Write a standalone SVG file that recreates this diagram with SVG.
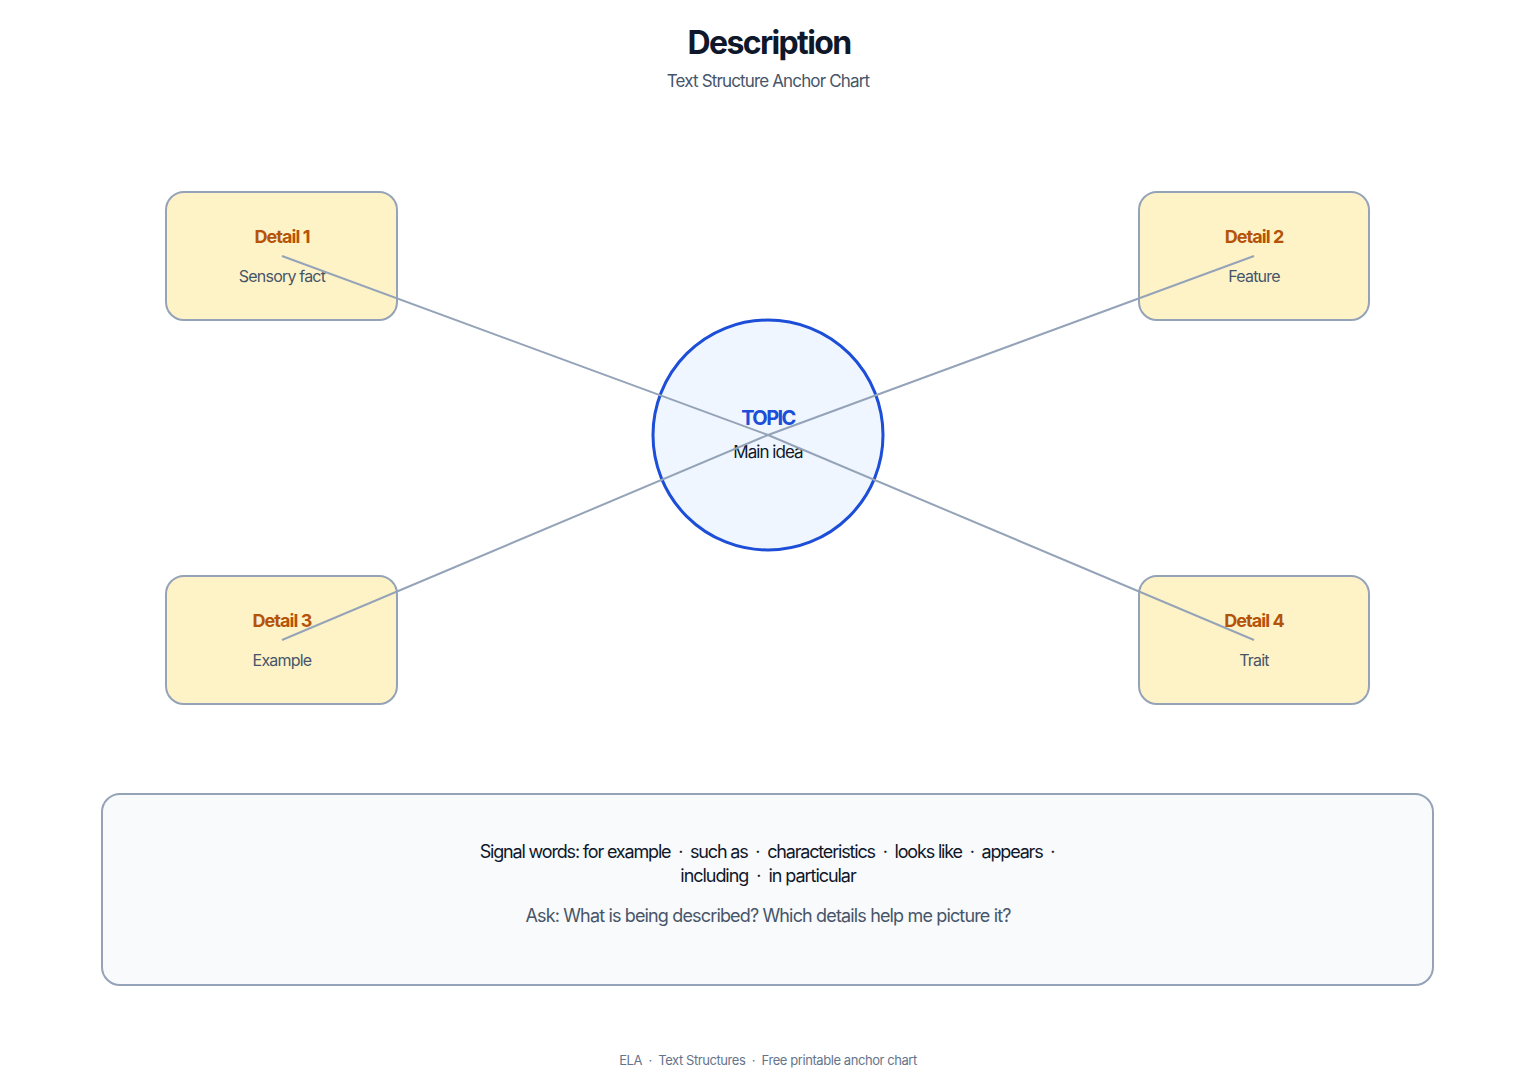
<svg xmlns="http://www.w3.org/2000/svg" width="1536" height="1088" viewBox="0 0 1536 1088">
<style>
text{font-family:Inter,"Noto Sans","Liberation Sans",sans-serif;text-anchor:middle}
.box{fill:#fef3c7;stroke:#94a3b8;stroke-width:2}
.dt{font-size:18px;font-weight:700;fill:#b45309;letter-spacing:-0.95px}
.ds{font-size:16px;fill:#475569;letter-spacing:-0.8px}
.con{stroke:#94a3b8;stroke-width:2;fill:none}
</style>
<rect width="1536" height="1088" fill="#ffffff"/>
<g id="title">
<text x="769" y="54" font-size="32" font-weight="700" fill="#0f172a" letter-spacing="-1.65">Description</text>
<text x="768" y="87" font-size="17" fill="#475569" letter-spacing="-0.85">Text Structure Anchor Chart</text>
</g>
<g id="topic">
<circle cx="768" cy="435" r="115" fill="#eff6ff" stroke="#1d4ed8" stroke-width="3"/>
<text x="768" y="425" font-size="20" font-weight="700" fill="#1d4ed8" letter-spacing="-1.6">TOPIC</text>
<text x="768" y="458" font-size="17" fill="#0f172a" letter-spacing="-0.95">Main idea</text>
</g>
<g id="detail1">
<rect class="box" x="166" y="192" width="231" height="128" rx="18"/>
<text class="dt" x="282" y="243">Detail 1</text>
<text class="ds" x="282" y="282">Sensory fact</text>
</g>
<g id="detail2">
<rect class="box" x="1139" y="192" width="230" height="128" rx="18"/>
<text class="dt" x="1254" y="243">Detail 2</text>
<text class="ds" x="1254" y="282">Feature</text>
</g>
<g id="detail3">
<rect class="box" x="166" y="576" width="231" height="128" rx="18"/>
<text class="dt" x="282" y="627">Detail 3</text>
<text class="ds" x="282" y="666">Example</text>
</g>
<g id="detail4">
<rect class="box" x="1139" y="576" width="230" height="128" rx="18"/>
<text class="dt" x="1254" y="627">Detail 4</text>
<text class="ds" x="1254" y="666">Trait</text>
</g>
<g id="connectors">
<line class="con" x1="282" y1="256" x2="768" y2="435"/>
<line class="con" x1="1254" y1="256" x2="768" y2="435"/>
<line class="con" x1="282" y1="640" x2="768" y2="435"/>
<line class="con" x1="1254" y1="640" x2="768" y2="435"/>
</g>
<g id="signal">
<rect x="102" y="794" width="1331" height="191" rx="18" fill="#f8fafc" stroke="#94a3b8" stroke-width="2"/>
<text x="767" y="858" font-size="18" fill="#0f172a" letter-spacing="-1.17" xml:space="preserve">Signal words: for example  ·  such as  ·  characteristics  ·  looks like  ·  appears  ·</text>
<text x="768" y="882" font-size="18" fill="#0f172a" letter-spacing="-1.05" xml:space="preserve">including  ·  in particular</text>
<text x="768" y="922" font-size="18" fill="#475569" letter-spacing="-0.85">Ask: What is being described? Which details help me picture it?</text>
</g>
<g id="footer">
<text x="768" y="1065" font-size="13" fill="#64748b" letter-spacing="-0.43" xml:space="preserve">ELA  ·  Text Structures  ·  Free printable anchor chart</text>
</g>
</svg>
